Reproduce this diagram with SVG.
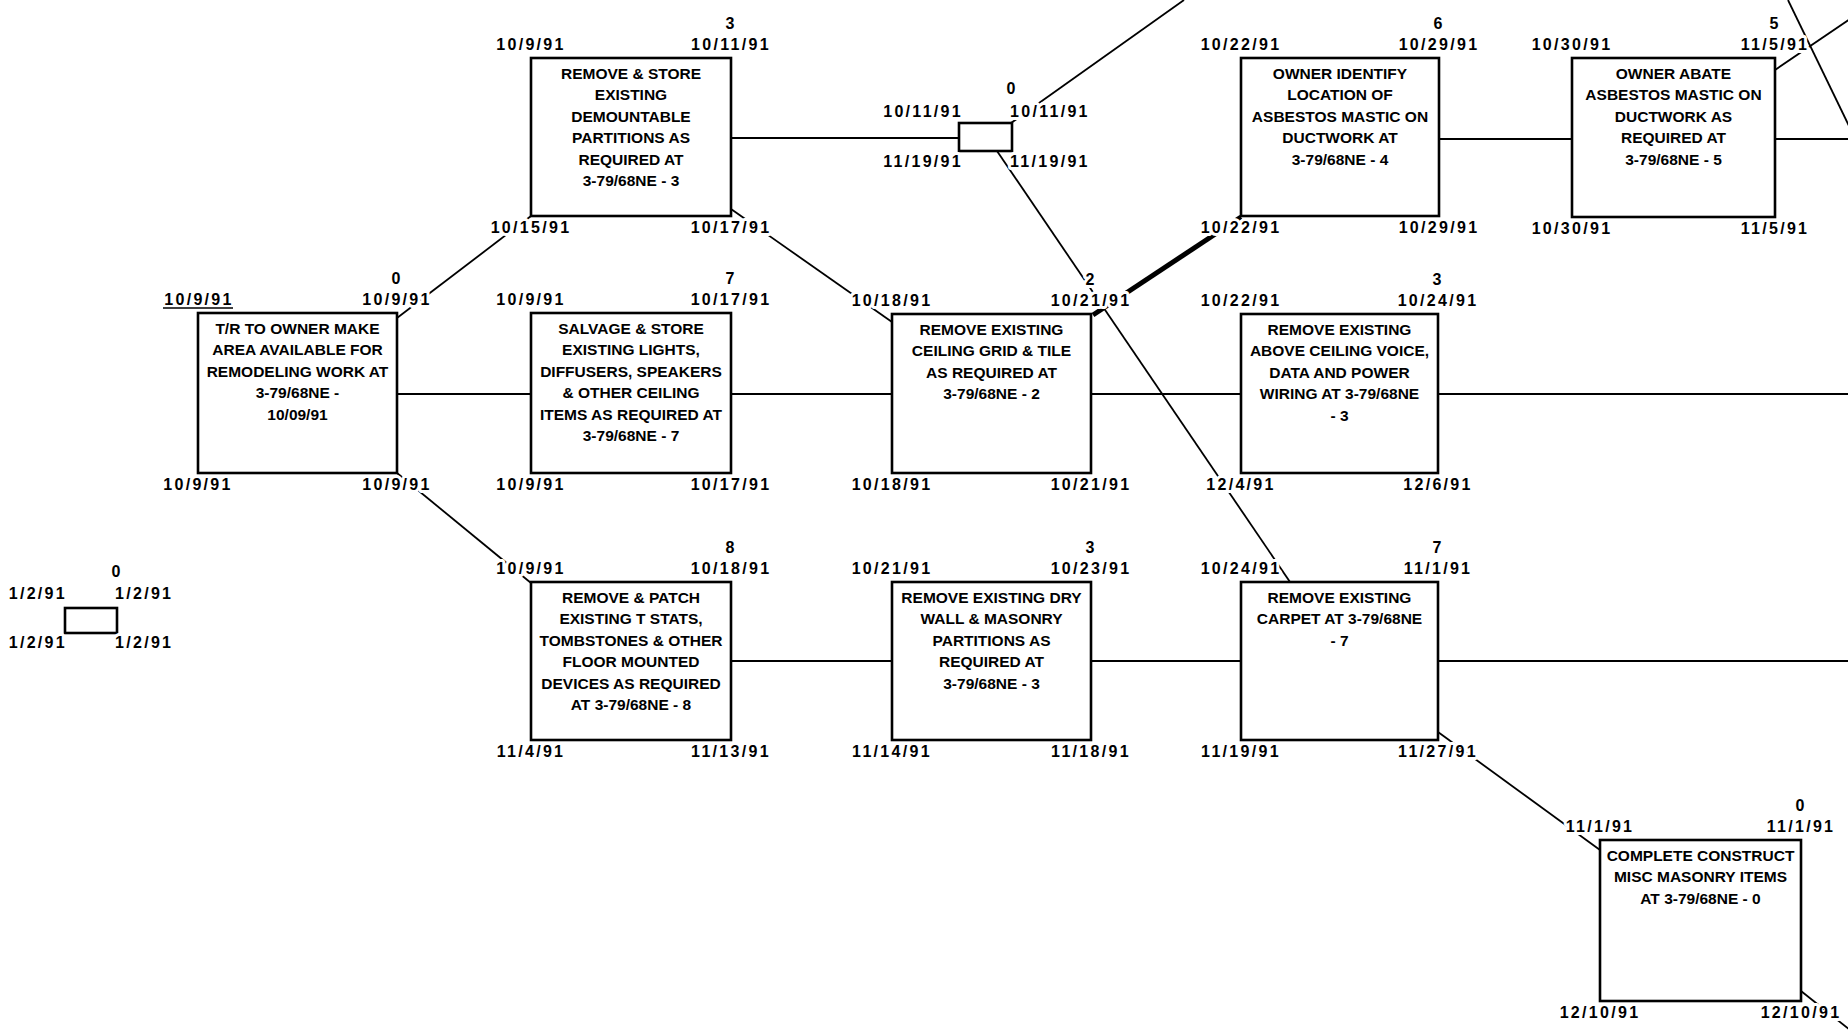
<svg xmlns="http://www.w3.org/2000/svg" width="1848" height="1033" viewBox="0 0 1848 1033">
<style>
.bg{fill:#fff}
.box{fill:#fff;stroke:#000;stroke-width:2.6}
.c{stroke:#000;stroke-width:1.8;fill:none}
.ck{stroke:#000;stroke-width:5;fill:none}
.t{font-family:"Liberation Sans",Arial,sans-serif;font-weight:bold;font-size:15.5px;text-anchor:middle;fill:#000}
.d{font-family:"Liberation Sans",Arial,sans-serif;font-weight:bold;font-size:16px;letter-spacing:2.3px;text-anchor:middle;fill:#000;stroke:#fff;stroke-width:6px;paint-order:stroke;stroke-linejoin:round}
.e{text-anchor:end}
.s{text-anchor:start}
</style>
<rect class="bg" x="0" y="0" width="1848" height="1033"/>
<g id="connectors">
<line class="c" x1="397" y1="394" x2="531" y2="394"/>
<line class="c" x1="731" y1="394" x2="892" y2="394"/>
<line class="c" x1="1091" y1="394" x2="1241" y2="394"/>
<line class="c" x1="1438" y1="394" x2="1848" y2="394"/>
<line class="c" x1="731" y1="138" x2="959" y2="138"/>
<line class="c" x1="1439" y1="139" x2="1572" y2="139"/>
<line class="c" x1="1775" y1="139" x2="1848" y2="139"/>
<line class="c" x1="731" y1="661" x2="892" y2="661"/>
<line class="c" x1="1091" y1="661" x2="1241" y2="661"/>
<line class="c" x1="1438" y1="661" x2="1848" y2="661"/>
<line class="c" x1="397" y1="318" x2="531" y2="216"/>
<line class="c" x1="397" y1="473" x2="531" y2="583"/>
<line class="c" x1="731" y1="209" x2="892" y2="322"/>
<line class="c" x1="1011" y1="123" x2="1184" y2="0"/>
<line class="c" x1="997" y1="151" x2="1290" y2="582"/>
<line class="ck" x1="1093" y1="315" x2="1241" y2="217"/>
<line class="c" x1="1438" y1="732" x2="1600" y2="850"/>
<line class="c" x1="1801" y1="991" x2="1850" y2="1030"/>
<line class="c" x1="1775" y1="70" x2="1850" y2="19"/>
<line class="c" x1="1788" y1="0" x2="1850" y2="128"/>
</g>
<g id="node-start">
<rect class="box" x="65" y="608" width="52" height="25"/>
<text class="d" x="117" y="577">0</text>
<text class="d e" x="67" y="599">1/2/91</text>
<text class="d s" x="115" y="599">1/2/91</text>
<text class="d e" x="67" y="648">1/2/91</text>
<text class="d s" x="115" y="648">1/2/91</text>
</g>
<g id="node-a">
<rect class="box" x="198" y="313" width="199" height="160"/>
<text class="t" x="297.5" y="333.5">T/R TO OWNER MAKE</text>
<text class="t" x="297.5" y="355">AREA AVAILABLE FOR</text>
<text class="t" x="297.5" y="376.5">REMODELING WORK AT</text>
<text class="t" x="297.5" y="398">3-79/68NE -</text>
<text class="t" x="297.5" y="419.5">10/09/91</text>
<text class="d" x="397" y="284">0</text>
<text class="d" x="199" y="305">10/9/91</text>
<line x1="163" y1="308" x2="233" y2="308" stroke="#000" stroke-width="1.6"/>
<text class="d" x="397" y="305">10/9/91</text>
<text class="d" x="198" y="490">10/9/91</text>
<text class="d" x="397" y="490">10/9/91</text>
</g>
<g id="node-b">
<rect class="box" x="531" y="58" width="200" height="158"/>
<text class="t" x="631" y="78.5">REMOVE &amp; STORE</text>
<text class="t" x="631" y="100">EXISTING</text>
<text class="t" x="631" y="121.5">DEMOUNTABLE</text>
<text class="t" x="631" y="143">PARTITIONS AS</text>
<text class="t" x="631" y="164.5">REQUIRED AT</text>
<text class="t" x="631" y="186">3-79/68NE - 3</text>
<text class="d" x="731" y="29">3</text>
<text class="d" x="531" y="50">10/9/91</text>
<text class="d" x="731" y="50">10/11/91</text>
<text class="d" x="531" y="233">10/15/91</text>
<text class="d" x="731" y="233">10/17/91</text>
</g>
<g id="node-c">
<rect class="box" x="531" y="313" width="200" height="160"/>
<text class="t" x="631" y="333.5">SALVAGE &amp; STORE</text>
<text class="t" x="631" y="355">EXISTING LIGHTS,</text>
<text class="t" x="631" y="376.5">DIFFUSERS, SPEAKERS</text>
<text class="t" x="631" y="398">&amp; OTHER CEILING</text>
<text class="t" x="631" y="419.5">ITEMS AS REQUIRED AT</text>
<text class="t" x="631" y="441">3-79/68NE - 7</text>
<text class="d" x="731" y="284">7</text>
<text class="d" x="531" y="305">10/9/91</text>
<text class="d" x="731" y="305">10/17/91</text>
<text class="d" x="531" y="490">10/9/91</text>
<text class="d" x="731" y="490">10/17/91</text>
</g>
<g id="node-milestone">
<rect class="box" x="959" y="123" width="53" height="28"/>
<text class="d" x="1012" y="94">0</text>
<text class="d e" x="963" y="117">10/11/91</text>
<text class="d s" x="1010" y="117">10/11/91</text>
<text class="d e" x="963" y="167">11/19/91</text>
<text class="d s" x="1010" y="167">11/19/91</text>
</g>
<g id="node-d">
<rect class="box" x="892" y="314" width="199" height="159"/>
<text class="t" x="991.5" y="334.5">REMOVE EXISTING</text>
<text class="t" x="991.5" y="356">CEILING GRID &amp; TILE</text>
<text class="t" x="991.5" y="377.5">AS REQUIRED AT</text>
<text class="t" x="991.5" y="399">3-79/68NE - 2</text>
<text class="d" x="1091" y="285">2</text>
<text class="d" x="892" y="306">10/18/91</text>
<text class="d" x="1091" y="306">10/21/91</text>
<text class="d" x="892" y="490">10/18/91</text>
<text class="d" x="1091" y="490">10/21/91</text>
</g>
<g id="node-owner-identify">
<rect class="box" x="1241" y="58" width="198" height="158"/>
<text class="t" x="1340" y="78.5">OWNER IDENTIFY</text>
<text class="t" x="1340" y="100">LOCATION OF</text>
<text class="t" x="1340" y="121.5">ASBESTOS MASTIC ON</text>
<text class="t" x="1340" y="143">DUCTWORK AT</text>
<text class="t" x="1340" y="164.5">3-79/68NE - 4</text>
<text class="d" x="1439" y="29">6</text>
<text class="d" x="1241" y="50">10/22/91</text>
<text class="d" x="1439" y="50">10/29/91</text>
<text class="d" x="1241" y="233">10/22/91</text>
<text class="d" x="1439" y="233">10/29/91</text>
</g>
<g id="node-owner-abate">
<rect class="box" x="1572" y="58" width="203" height="159"/>
<text class="t" x="1673.5" y="78.5">OWNER ABATE</text>
<text class="t" x="1673.5" y="100">ASBESTOS MASTIC ON</text>
<text class="t" x="1673.5" y="121.5">DUCTWORK AS</text>
<text class="t" x="1673.5" y="143">REQUIRED AT</text>
<text class="t" x="1673.5" y="164.5">3-79/68NE - 5</text>
<text class="d" x="1775" y="29">5</text>
<text class="d" x="1572" y="50">10/30/91</text>
<text class="d" x="1775" y="50">11/5/91</text>
<text class="d" x="1572" y="234">10/30/91</text>
<text class="d" x="1775" y="234">11/5/91</text>
</g>
<g id="node-e">
<rect class="box" x="1241" y="314" width="197" height="159"/>
<text class="t" x="1339.5" y="334.5">REMOVE EXISTING</text>
<text class="t" x="1339.5" y="356">ABOVE CEILING VOICE,</text>
<text class="t" x="1339.5" y="377.5">DATA AND POWER</text>
<text class="t" x="1339.5" y="399">WIRING AT 3-79/68NE</text>
<text class="t" x="1339.5" y="420.5">- 3</text>
<text class="d" x="1438" y="285">3</text>
<text class="d" x="1241" y="306">10/22/91</text>
<text class="d" x="1438" y="306">10/24/91</text>
<text class="d" x="1241" y="490">12/4/91</text>
<text class="d" x="1438" y="490">12/6/91</text>
</g>
<g id="node-f">
<rect class="box" x="531" y="582" width="200" height="158"/>
<text class="t" x="631" y="602.5">REMOVE &amp; PATCH</text>
<text class="t" x="631" y="624">EXISTING T STATS,</text>
<text class="t" x="631" y="645.5">TOMBSTONES &amp; OTHER</text>
<text class="t" x="631" y="667">FLOOR MOUNTED</text>
<text class="t" x="631" y="688.5">DEVICES AS REQUIRED</text>
<text class="t" x="631" y="710">AT 3-79/68NE - 8</text>
<text class="d" x="731" y="553">8</text>
<text class="d" x="531" y="574">10/9/91</text>
<text class="d" x="731" y="574">10/18/91</text>
<text class="d" x="531" y="757">11/4/91</text>
<text class="d" x="731" y="757">11/13/91</text>
</g>
<g id="node-g">
<rect class="box" x="892" y="582" width="199" height="158"/>
<text class="t" x="991.5" y="602.5">REMOVE EXISTING DRY</text>
<text class="t" x="991.5" y="624">WALL &amp; MASONRY</text>
<text class="t" x="991.5" y="645.5">PARTITIONS AS</text>
<text class="t" x="991.5" y="667">REQUIRED AT</text>
<text class="t" x="991.5" y="688.5">3-79/68NE - 3</text>
<text class="d" x="1091" y="553">3</text>
<text class="d" x="892" y="574">10/21/91</text>
<text class="d" x="1091" y="574">10/23/91</text>
<text class="d" x="892" y="757">11/14/91</text>
<text class="d" x="1091" y="757">11/18/91</text>
</g>
<g id="node-h">
<rect class="box" x="1241" y="582" width="197" height="158"/>
<text class="t" x="1339.5" y="602.5">REMOVE EXISTING</text>
<text class="t" x="1339.5" y="624">CARPET AT 3-79/68NE</text>
<text class="t" x="1339.5" y="645.5">- 7</text>
<text class="d" x="1438" y="553">7</text>
<text class="d" x="1241" y="574">10/24/91</text>
<text class="d" x="1438" y="574">11/1/91</text>
<text class="d" x="1241" y="757">11/19/91</text>
<text class="d" x="1438" y="757">11/27/91</text>
</g>
<g id="node-i">
<rect class="box" x="1600" y="840" width="201" height="161"/>
<text class="t" x="1700.5" y="860.5">COMPLETE CONSTRUCT</text>
<text class="t" x="1700.5" y="882">MISC MASONRY ITEMS</text>
<text class="t" x="1700.5" y="903.5">AT 3-79/68NE - 0</text>
<text class="d" x="1801" y="811">0</text>
<text class="d" x="1600" y="832">11/1/91</text>
<text class="d" x="1801" y="832">11/1/91</text>
<text class="d" x="1600" y="1018">12/10/91</text>
<text class="d" x="1801" y="1018">12/10/91</text>
</g>
</svg>
